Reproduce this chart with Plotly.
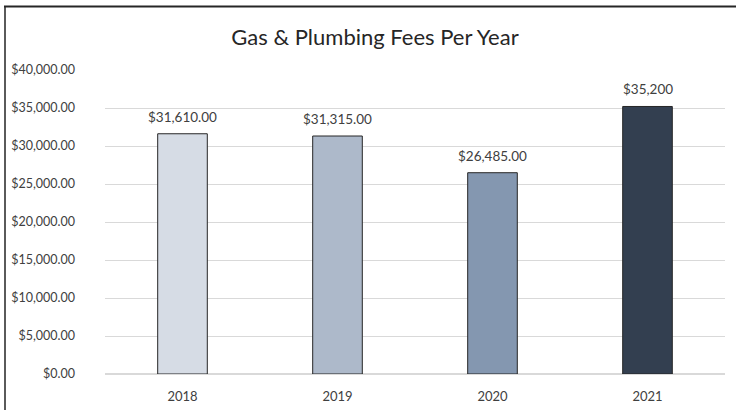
import plotly.graph_objects as go

years = ["2018", "2019", "2020", "2021"]
fees = [31610, 31315, 26485, 35200]
labels = ["$31,610.00", "$31,315.00", "$26,485.00", "$35,200"]
colors = ["#D6DCE5", "#ADB9CA", "#8497B0", "#333F50"]

L, R, T, B = 105, 11, 70, 36
W, H = 736, 410
pw, ph = W - L - R, H - T - B

def px(x):
    return (x - L) / pw

def py(y):
    return (H - B - y) / ph

FONT = "Lato, Open Sans, sans-serif"

fig = go.Figure(go.Bar(
    x=years, y=fees,
    marker=dict(color=colors, line=dict(color="#262626", width=1)),
    hoverinfo="skip",
))

# category axis: annotation positions given by category index
for i, (v, lab) in enumerate(zip(fees, labels)):
    fig.add_annotation(x=i, y=v, text=lab, showarrow=False, xanchor="center",
                       yanchor="bottom", yshift=7,
                       font=dict(family=FONT, size=13.5, color="#404040"))

fig.update_layout(
    width=W, height=H,
    margin=dict(l=L, r=R, t=T, b=B),
    paper_bgcolor="white", plot_bgcolor="white",
    bargap=0.68,
    showlegend=False,
    title=dict(text="Gas & Plumbing Fees Per Year", x=375 / W, xanchor="center",
               y=1 - 37 / H, yanchor="middle",
               font=dict(family=FONT, size=22, color="#262626")),
    font=dict(family=FONT, size=13, color="#404040"),
    yaxis=dict(range=[0, 40000], dtick=5000, tickformat="$,.2f", automargin=False,
               gridcolor="#D9D9D9", gridwidth=1, zeroline=True, zerolinecolor="#D9D9D9",
               showline=False, ticks="", ticklabelstandoff=29,
               tickfont=dict(family=FONT, size=12.5, color="#404040")),
    xaxis=dict(type="category", range=[-0.5, 3.5], showgrid=False, showline=True,
               automargin=False,
               linecolor="#D9D9D9", ticks="", ticklabelstandoff=10,
               tickfont=dict(family=FONT, size=13, color="#404040")),
    shapes=[
        dict(type="line", xref="paper", yref="paper", x0=px(5), x1=px(5), y0=py(6), y1=py(412),
             line=dict(color="#5A5A5A", width=2)),
        dict(type="line", xref="paper", yref="paper", x0=px(4), x1=px(740), y0=py(6.5), y1=py(6.5),
             line=dict(color="#262626", width=2)),
    ],
)

fig.write_html("out.html", config={"displayModeBar": False},
               post_script="document.body.style.margin='0';document.body.style.overflow='hidden';")
